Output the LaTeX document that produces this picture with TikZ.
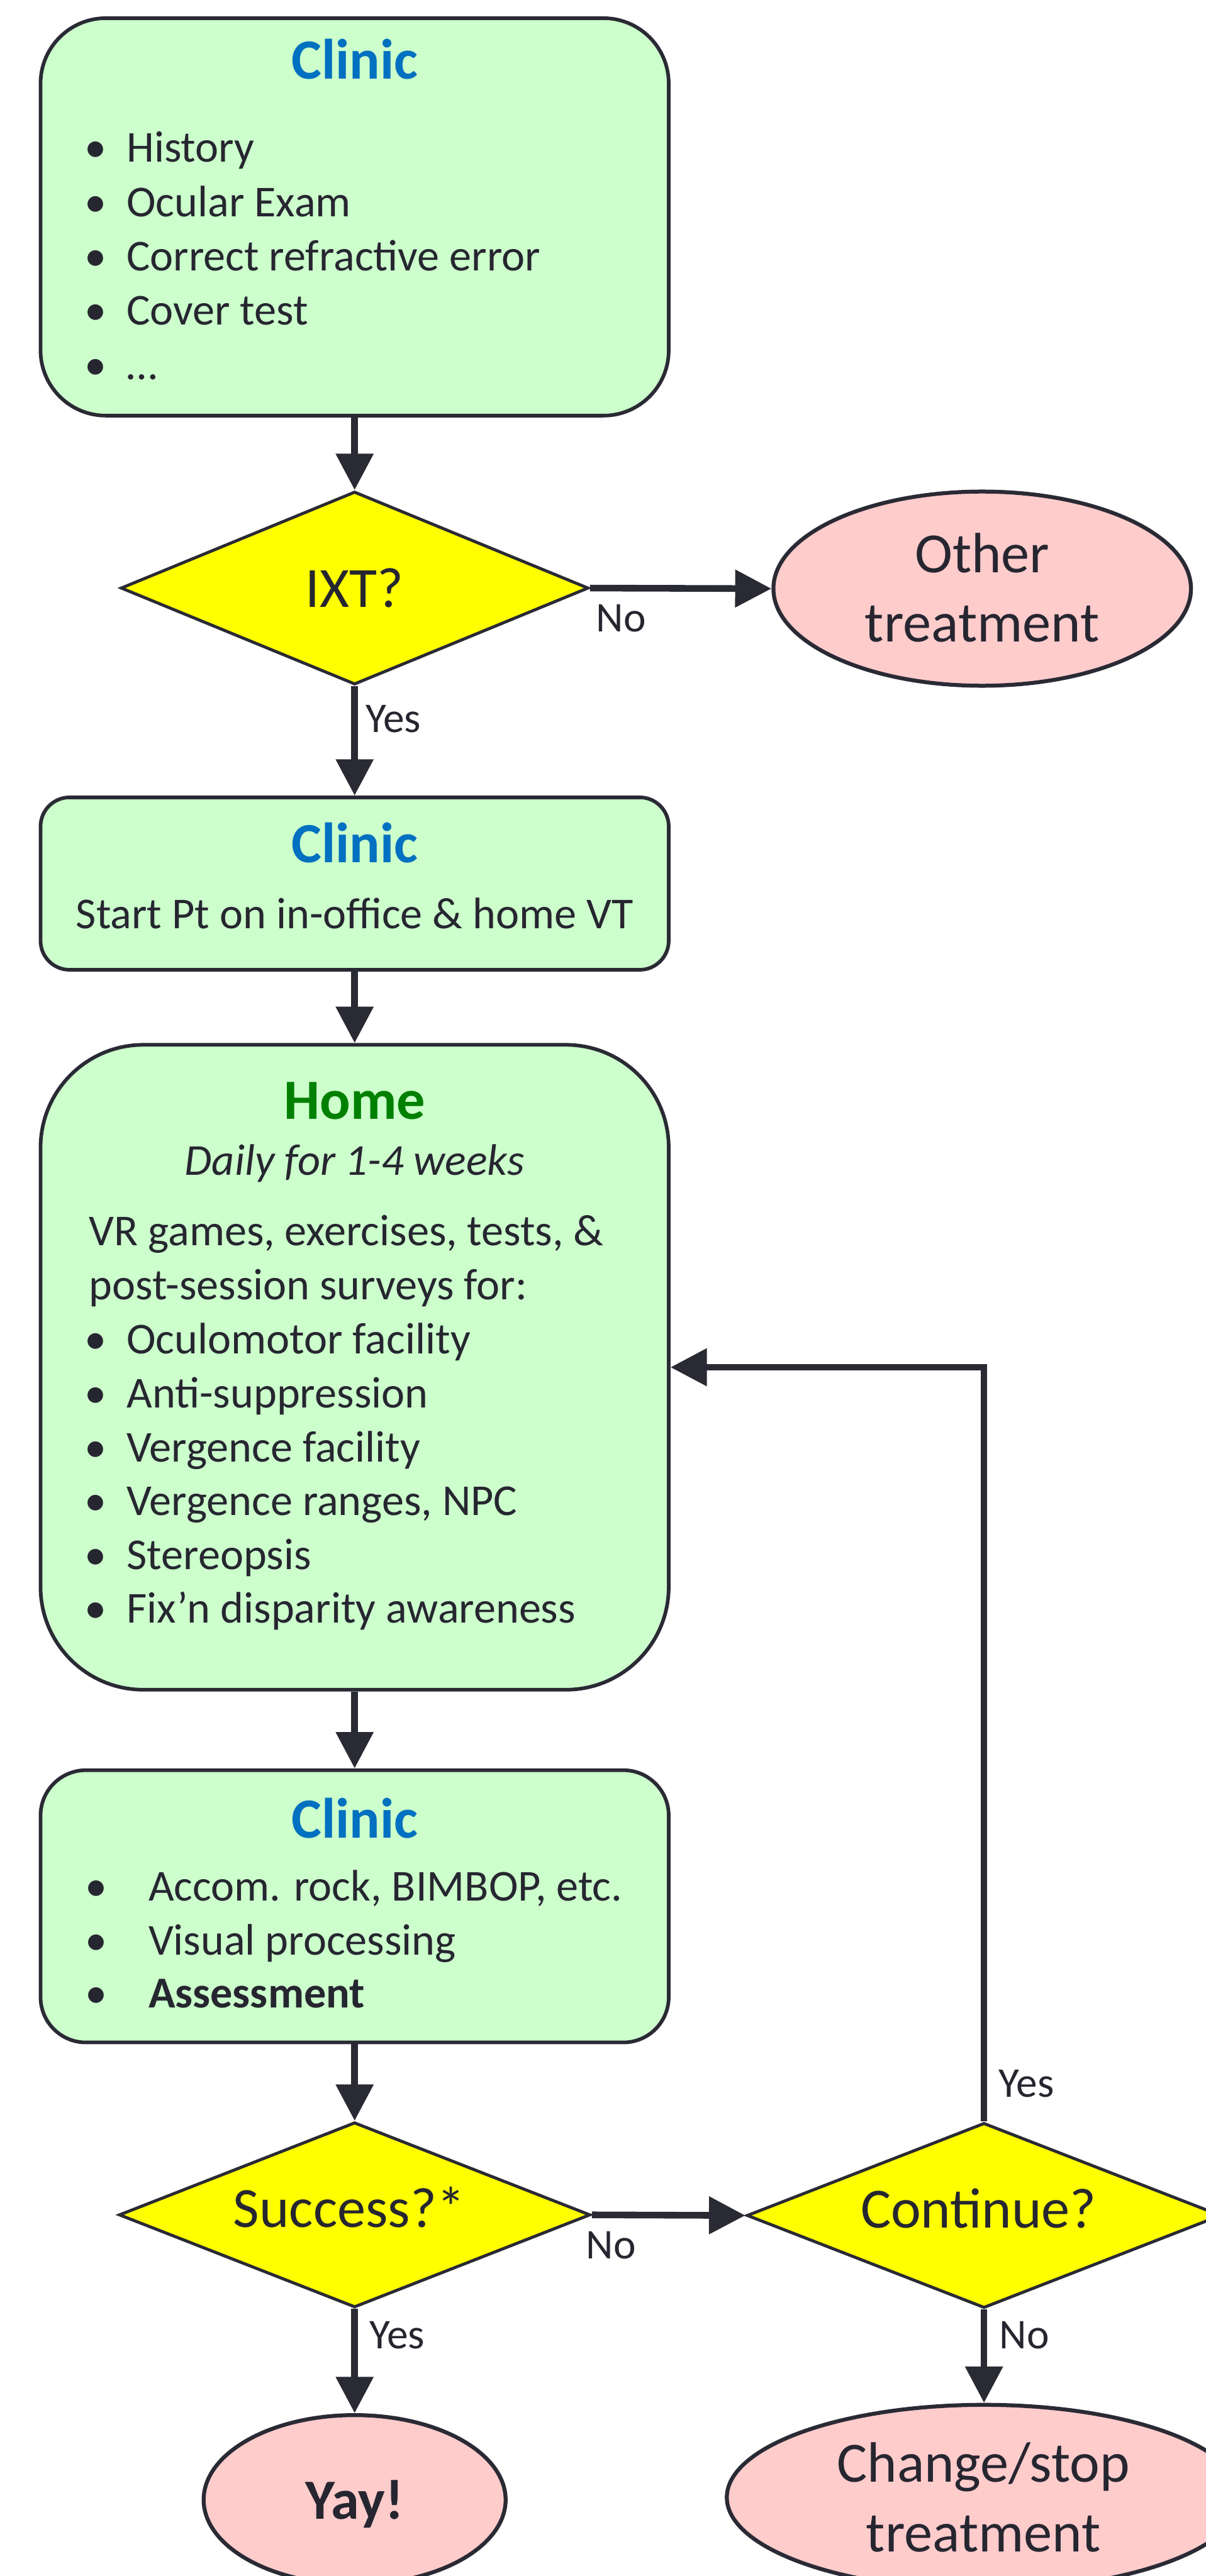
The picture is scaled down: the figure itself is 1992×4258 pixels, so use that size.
\documentclass[tikz,border=0pt]{standalone}
\usepackage{fontspec}
\setmainfont{Carlito}
\usetikzlibrary{shapes.geometric,arrows.meta}
\definecolor{ln}{HTML}{2A2A35}
\definecolor{txt}{HTML}{262630}
\definecolor{boxg}{HTML}{CCFFCC}
\definecolor{yel}{HTML}{FFFF00}
\definecolor{pinkf}{HTML}{FFCCCC}
\definecolor{cblue}{HTML}{0070C0}
\definecolor{hgreen}{HTML}{008000}
\begin{document}
\begin{tikzpicture}[x=0.5pt,y=-0.5pt,
  box/.style={rectangle, draw=ln, line width=3pt, fill=boxg, inner sep=0pt, minimum width=519pt},
  dec/.style={diamond, draw=ln, line width=2.5pt, fill=yel, inner sep=0pt},
  term/.style={ellipse, draw=ln, line width=3.25pt, fill=pinkf, inner sep=0pt},
  conn/.style={draw=ln, line width=5.5pt, -{Triangle[length=30pt,width=30pt]}},
  ttl/.style={anchor=base, inner sep=0pt, font=\fontsize{47pt}{56pt}\selectfont\bfseries},
  body/.style={anchor=base west, inner sep=0pt, text=txt, font=\fontsize{36.5pt}{44pt}\selectfont},
  bul/.style={anchor=base, inner sep=0pt, text=txt, font=\fontsize{36.5pt}{44pt}\selectfont},
  big/.style={anchor=base, inner sep=0pt, text=txt, font=\fontsize{47pt}{56pt}\selectfont},
  lbl/.style={anchor=base west, inner sep=0pt, text=txt, font=\fontsize{35pt}{42pt}\selectfont},
]
\fill[white] (0,0) rectangle (1992,4258);
\useasboundingbox (0,0) rectangle (1992,4258);

% ---- shapes ----
\node[box, minimum height=328.5pt, rounded corners=54pt] (c1) at (586,358.5) {};
\node[dec, minimum width=386.5pt, minimum height=159.5pt] (ixt) at (586,972) {};
\node[term, minimum width=345pt, minimum height=160.5pt] (oth) at (1623,973) {};
\node[box, minimum height=142.5pt, rounded corners=24pt] (c2) at (586,1460.5) {};
\node[box, minimum height=533pt, rounded corners=85pt] (home) at (586,2260) {};
\node[box, minimum height=225pt, rounded corners=37.5pt] (c3) at (586,3151) {};
\node[dec, minimum width=389.5pt, minimum height=153pt] (succ) at (586,3661) {};
\node[dec, minimum width=392pt, minimum height=153pt] (cont) at (1626,3662) {};
\node[term, minimum width=249.5pt, minimum height=140pt] (yay) at (586,4132) {};
\node[term, minimum width=425pt, minimum height=153pt] (chg) at (1626,4128) {};

% ---- connectors ----
\draw[conn] (c1.south) -- (ixt.north);
\draw[conn] (ixt.east) -- (oth.west);
\draw[conn] (ixt.south) -- (c2.north);
\draw[conn] (c2.south) -- (home.north);
\draw[conn] (home.south) -- (c3.north);
\draw[conn] (c3.south) -- (succ.north);
\draw[conn] (succ.east) -- (cont.west);
\draw[conn] (succ.south) -- (yay.north);
\draw[conn] (cont.south) -- (chg.north);
\draw[conn] (cont.north) |- (home.east);

% ---- box 1 ----
\node[ttl, text=cblue] (t1) at (586,130) {Clinic};
\node[bul] (b11) at (158,268) {•};
\node[body] (l11) at (209,268) {History};
\node[bul] (b12) at (158,358) {•};
\node[body] (l12) at (209,358) {Ocular Exam};
\node[bul] (b13) at (158,448) {•};
\node[body] (l13) at (209,448) {Correct refractive error};
\node[bul] (b14) at (158,537) {•};
\node[body] (l14) at (209,537) {Cover test};
\node[bul] (b15) at (158,627) {•};
\node[body] (l15) at (209,627) {…};

% ---- decision IXT ----
\node[big] (ixtT) at (586,1004) {IXT?};
\node[big] (othA) at (1623,947) {Other};
\node[big] (othB) at (1623,1061) {treatment};
\node[lbl] (no1) at (985,1044) {No};
\node[lbl] (yes1) at (604,1211) {Yes};

% ---- box 2 ----
\node[ttl, text=cblue] (t2) at (586,1426) {Clinic};
\node[bul] (l21) at (586,1535) {Start Pt on in-office \& home VT};

% ---- home ----
\node[ttl, text=hgreen] (t3) at (586,1850) {Home};
\node[bul, font=\fontsize{36.5pt}{44pt}\selectfont\itshape] (l30) at (586,1942) {Daily for 1-4 weeks};
\node[body] (l31) at (147,2059) {VR games, exercises, tests, \&};
\node[body] (l32) at (147,2148) {post-session surveys for:};
\node[bul] (b33) at (158,2238) {•};
\node[body] (l33) at (209,2238) {Oculomotor facility};
\node[bul] (b34) at (158,2327) {•};
\node[body] (l34) at (209,2327) {Anti-suppression};
\node[bul] (b35) at (158,2416) {•};
\node[body] (l35) at (209,2416) {Vergence facility};
\node[bul] (b36) at (158,2505) {•};
\node[body] (l36) at (209,2505) {Vergence ranges, NPC};
\node[bul] (b37) at (158,2594) {•};
\node[body] (l37) at (209,2594) {Stereopsis};
\node[bul] (b38) at (158,2683) {•};
\node[body] (l38) at (209,2683) {Fix’n disparity awareness};

% ---- box 3 ----
\node[ttl, text=cblue] (t4) at (586,3038) {Clinic};
\node[bul] (b41) at (159,3142) {•};
\node[body] (l41) at (245,3142) {Accom. rock, BIMBOP, etc.};
\node[bul] (b42) at (159,3231) {•};
\node[body] (l42) at (245,3231) {Visual processing};
\node[bul] (b43) at (159,3319) {•};
\node[body, font=\fontsize{36.5pt}{44pt}\selectfont\bfseries] (l43) at (245,3319) {Assessment};

% ---- bottom decisions ----
\node[big] (succT) at (577,3682) {Success?*};
\node[big] (contT) at (1617,3683) {Continue?};
\node[lbl] (no2) at (968,3734) {No};
\node[lbl] (yes2) at (610,3882) {Yes};
\node[lbl] (yes3) at (1650,3466) {Yes};
\node[lbl] (no3) at (1651,3882) {No};
\node[big, font=\fontsize{47pt}{56pt}\selectfont\bfseries] (yayT) at (586,4164) {Yay!};
\node[big] (chgA) at (1625,4103) {Change/stop};
\node[big] (chgB) at (1625,4218) {treatment};
\end{tikzpicture}
\end{document}
